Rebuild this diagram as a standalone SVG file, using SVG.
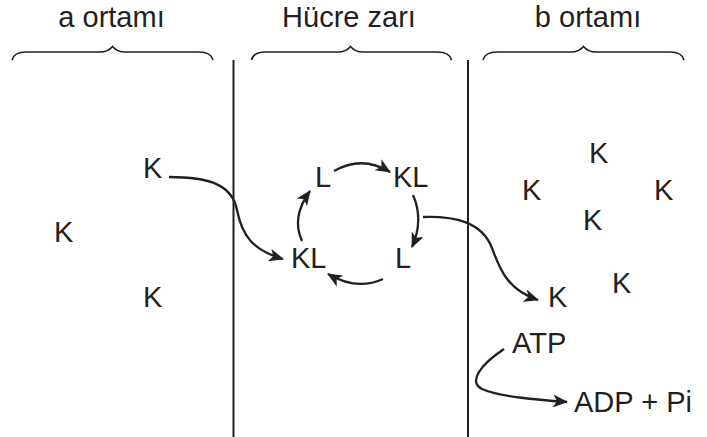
<svg xmlns="http://www.w3.org/2000/svg" width="707" height="437" viewBox="0 0 707 437">
<style>
text{font-family:"Liberation Sans",Arial,sans-serif;font-size:29px;fill:#231f20}
.ln{fill:none;stroke:#231f20;stroke-width:2}
.br{fill:none;stroke:#231f20;stroke-width:1.6}
.ar{fill:none;stroke:#231f20;stroke-width:2.3;marker-end:url(#ah)}
</style>
<defs>
<marker id="ah" markerUnits="userSpaceOnUse" markerWidth="16" markerHeight="13" refX="14" refY="6.5" orient="auto" viewBox="0 0 16 13">
<path d="M0,0 L15,6.5 L0,13 L4,6.5 Z" fill="#231f20"/>
</marker>
</defs>
<rect width="707" height="437" fill="#fff"/>
<g id="headings">
<text x="111.5" y="27" text-anchor="middle">a ortamı</text>
<text x="349" y="27" text-anchor="middle">Hücre zarı</text>
<text x="588" y="27" text-anchor="middle">b ortamı</text>
</g>
<g id="braces">
<path class="br" d="M12,60 Q14,52 26,52 L100,52 Q108,52 112.5,46.5 Q117,52 125,52 L199,52 Q211,52 213,60"/>
<path class="br" d="M251.5,60 Q253.5,52 265.5,52 L338,52 Q346,52 350.5,46.5 Q355,52 363,52 L437.5,52 Q449.5,52 451.5,60"/>
<path class="br" d="M483,60 Q485,52 497,52 L571,52 Q579,52 583.5,46.5 Q588,52 596,52 L670,52 Q682,52 684,60"/>
</g>
<g id="membranes">
<line class="ln" x1="233.5" y1="60" x2="233.5" y2="437"/>
<line class="ln" x1="468" y1="60" x2="468" y2="437"/>
</g>
<g id="a-side">
<text x="143" y="178">K</text>
<text x="54" y="242">K</text>
<text x="143" y="307">K</text>
</g>
<g id="carrier-cycle">
<text x="315" y="187">L</text>
<text x="393" y="187">KL</text>
<text x="291" y="268">KL</text>
<text x="395" y="268">L</text>
</g>
<g id="b-side">
<text x="589" y="163">K</text>
<text x="522" y="200">K</text>
<text x="654" y="200">K</text>
<text x="583" y="230">K</text>
<text x="612" y="293">K</text>
<text x="548" y="307">K</text>
<text x="512" y="353">ATP</text>
<text x="574" y="412">ADP + Pi</text>
</g>
<g id="connectors">
<path class="ar" d="M169,177 C210,177 232,185 237,210 C242,235 252,250 283,259"/>
<path class="ar" d="M334,171 Q362,155 390,172"/>
<path class="ar" d="M413,195 Q424,220 412,247"/>
<path class="ar" d="M383,279 Q357,291 328,274"/>
<path class="ar" d="M302,241 Q291,217 310,191"/>
<path class="ar" d="M423,217 C455,216 482,222 492,248 C500,270 508,290 538,300"/>
<path class="ar" d="M504,349 C480,365 468,382 482,389 C500,397 540,400 567,402"/>
</g>
</svg>
